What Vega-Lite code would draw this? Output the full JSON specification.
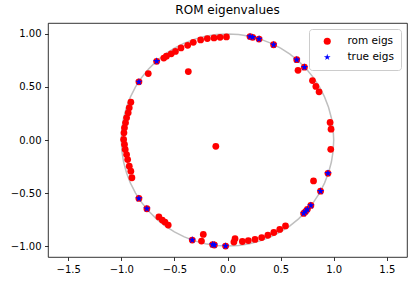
{
  "$schema": "https://vega.github.io/schema/vega-lite/v6.json",
  "autosize": "none",
  "width": 359,
  "height": 234,
  "padding": {"left": 48, "top": 23, "right": 8, "bottom": 26},
  "background": "white",
  "title": {"text": "ROM eigenvalues", "font": "DejaVu Sans", "fontSize": 12, "fontWeight": "normal", "color": "black", "offset": 6},
  "config": {
    "view": {"stroke": "black", "strokeWidth": 0.8},
    "axis": {"grid": false, "domain": false, "tickColor": "black", "tickSize": 3.5, "tickWidth": 0.8, "labelPadding": 3.5, "labelFont": "DejaVu Sans", "labelFontSize": 10, "labelColor": "black", "title": null}
  },
  "datasets": {
    "circle": [
      {"t": 0, "x": 1, "y": 0}, {"t": 6, "x": 0.9945, "y": 0.1045}, {"t": 12, "x": 0.9781, "y": 0.2079}, {"t": 18, "x": 0.9511, "y": 0.309}, {"t": 24, "x": 0.9135, "y": 0.4067}, {"t": 30, "x": 0.866, "y": 0.5}, {"t": 36, "x": 0.809, "y": 0.5878}, {"t": 42, "x": 0.7431, "y": 0.6691}, {"t": 48, "x": 0.6691, "y": 0.7431}, {"t": 54, "x": 0.5878, "y": 0.809}, {"t": 60, "x": 0.5, "y": 0.866}, {"t": 66, "x": 0.4067, "y": 0.9135}, {"t": 72, "x": 0.309, "y": 0.9511}, {"t": 78, "x": 0.2079, "y": 0.9781}, {"t": 84, "x": 0.1045, "y": 0.9945}, {"t": 90, "x": 0, "y": 1},
      {"t": 96, "x": -0.1045, "y": 0.9945}, {"t": 102, "x": -0.2079, "y": 0.9781}, {"t": 108, "x": -0.309, "y": 0.9511}, {"t": 114, "x": -0.4067, "y": 0.9135}, {"t": 120, "x": -0.5, "y": 0.866}, {"t": 126, "x": -0.5878, "y": 0.809}, {"t": 132, "x": -0.6691, "y": 0.7431}, {"t": 138, "x": -0.7431, "y": 0.6691}, {"t": 144, "x": -0.809, "y": 0.5878}, {"t": 150, "x": -0.866, "y": 0.5}, {"t": 156, "x": -0.9135, "y": 0.4067}, {"t": 162, "x": -0.9511, "y": 0.309}, {"t": 168, "x": -0.9781, "y": 0.2079}, {"t": 174, "x": -0.9945, "y": 0.1045}, {"t": 180, "x": -1, "y": 0},
      {"t": 186, "x": -0.9945, "y": -0.1045}, {"t": 192, "x": -0.9781, "y": -0.2079}, {"t": 198, "x": -0.9511, "y": -0.309}, {"t": 204, "x": -0.9135, "y": -0.4067}, {"t": 210, "x": -0.866, "y": -0.5}, {"t": 216, "x": -0.809, "y": -0.5878}, {"t": 222, "x": -0.7431, "y": -0.6691}, {"t": 228, "x": -0.6691, "y": -0.7431}, {"t": 234, "x": -0.5878, "y": -0.809}, {"t": 240, "x": -0.5, "y": -0.866}, {"t": 246, "x": -0.4067, "y": -0.9135}, {"t": 252, "x": -0.309, "y": -0.9511}, {"t": 258, "x": -0.2079, "y": -0.9781}, {"t": 264, "x": -0.1045, "y": -0.9945}, {"t": 270, "x": 0, "y": -1},
      {"t": 276, "x": 0.1045, "y": -0.9945}, {"t": 282, "x": 0.2079, "y": -0.9781}, {"t": 288, "x": 0.309, "y": -0.9511}, {"t": 294, "x": 0.4067, "y": -0.9135}, {"t": 300, "x": 0.5, "y": -0.866}, {"t": 306, "x": 0.5878, "y": -0.809}, {"t": 312, "x": 0.6691, "y": -0.7431}, {"t": 318, "x": 0.7431, "y": -0.6691}, {"t": 324, "x": 0.809, "y": -0.5878}, {"t": 330, "x": 0.866, "y": -0.5}, {"t": 336, "x": 0.9135, "y": -0.4067}, {"t": 342, "x": 0.9511, "y": -0.309}, {"t": 348, "x": 0.9781, "y": -0.2079}, {"t": 354, "x": 0.9945, "y": -0.1045}, {"t": 360, "x": 1, "y": 0}
    ],
    "eigs": [
      {"s": "rom eigs", "x": -0.01, "y": 0.972}, {"s": "rom eigs", "x": -0.07, "y": 0.968}, {"s": "rom eigs", "x": -0.127, "y": 0.962}, {"s": "rom eigs", "x": -0.19, "y": 0.956}, {"s": "rom eigs", "x": -0.253, "y": 0.943}, {"s": "rom eigs", "x": -0.322, "y": 0.921}, {"s": "rom eigs", "x": -0.375, "y": 0.893}, {"s": "rom eigs", "x": -0.438, "y": 0.868}, {"s": "rom eigs", "x": -0.49, "y": 0.835}, {"s": "rom eigs", "x": -0.53, "y": 0.812}, {"s": "rom eigs", "x": -0.575, "y": 0.79}, {"s": "rom eigs", "x": -0.6, "y": 0.772}, {"s": "rom eigs", "x": -0.667, "y": 0.742}, {"s": "rom eigs", "x": -0.746, "y": 0.626}, {"s": "rom eigs", "x": -0.834, "y": 0.548}, {"s": "rom eigs", "x": -0.369, "y": 0.645}, {"s": "rom eigs", "x": -0.11, "y": -0.06},
      {"s": "rom eigs", "x": -0.91, "y": 0.356}, {"s": "rom eigs", "x": -0.925, "y": 0.303}, {"s": "rom eigs", "x": -0.935, "y": 0.256}, {"s": "rom eigs", "x": -0.95, "y": 0.209}, {"s": "rom eigs", "x": -0.96, "y": 0.162}, {"s": "rom eigs", "x": -0.97, "y": 0.115}, {"s": "rom eigs", "x": -0.975, "y": 0.068}, {"s": "rom eigs", "x": -0.978, "y": 0.005}, {"s": "rom eigs", "x": -0.97, "y": -0.042}, {"s": "rom eigs", "x": -0.963, "y": -0.089}, {"s": "rom eigs", "x": -0.95, "y": -0.137}, {"s": "rom eigs", "x": -0.94, "y": -0.184}, {"s": "rom eigs", "x": -0.925, "y": -0.247}, {"s": "rom eigs", "x": -0.91, "y": -0.294}, {"s": "rom eigs", "x": -0.9, "y": -0.356},
      {"s": "rom eigs", "x": -0.834, "y": -0.551}, {"s": "rom eigs", "x": -0.759, "y": -0.648}, {"s": "rom eigs", "x": -0.646, "y": -0.725}, {"s": "rom eigs", "x": -0.614, "y": -0.755}, {"s": "rom eigs", "x": -0.589, "y": -0.774}, {"s": "rom eigs", "x": -0.558, "y": -0.802}, {"s": "rom eigs", "x": -0.332, "y": -0.943}, {"s": "rom eigs", "x": -0.228, "y": -0.89}, {"s": "rom eigs", "x": -0.245, "y": -0.953}, {"s": "rom eigs", "x": -0.14, "y": -0.986}, {"s": "rom eigs", "x": -0.124, "y": -0.99}, {"s": "rom eigs", "x": -0.018, "y": -1.0},
      {"s": "rom eigs", "x": 0.071, "y": -0.93}, {"s": "rom eigs", "x": 0.06, "y": -0.962}, {"s": "rom eigs", "x": 0.14, "y": -0.957}, {"s": "rom eigs", "x": 0.196, "y": -0.948}, {"s": "rom eigs", "x": 0.259, "y": -0.937}, {"s": "rom eigs", "x": 0.322, "y": -0.92}, {"s": "rom eigs", "x": 0.38, "y": -0.898}, {"s": "rom eigs", "x": 0.436, "y": -0.872}, {"s": "rom eigs", "x": 0.492, "y": -0.843}, {"s": "rom eigs", "x": 0.546, "y": -0.81},
      {"s": "rom eigs", "x": 0.717, "y": -0.692}, {"s": "rom eigs", "x": 0.735, "y": -0.675}, {"s": "rom eigs", "x": 0.752, "y": -0.654}, {"s": "rom eigs", "x": 0.785, "y": -0.617}, {"s": "rom eigs", "x": 0.876, "y": -0.483}, {"s": "rom eigs", "x": 0.946, "y": -0.314}, {"s": "rom eigs", "x": 0.81, "y": -0.386}, {"s": "rom eigs", "x": 0.972, "y": -0.088}, {"s": "rom eigs", "x": 0.975, "y": 0.102}, {"s": "rom eigs", "x": 0.966, "y": 0.165}, {"s": "rom eigs", "x": 0.862, "y": 0.454}, {"s": "rom eigs", "x": 0.832, "y": 0.505}, {"s": "rom eigs", "x": 0.8, "y": 0.56}, {"s": "rom eigs", "x": 0.664, "y": 0.657}, {"s": "rom eigs", "x": 0.724, "y": 0.686}, {"s": "rom eigs", "x": 0.652, "y": 0.757}, {"s": "rom eigs", "x": 0.434, "y": 0.898}, {"s": "rom eigs", "x": 0.297, "y": 0.952}, {"s": "rom eigs", "x": 0.237, "y": 0.968}, {"s": "rom eigs", "x": 0.212, "y": 0.975},
      {"s": "true eigs", "x": -0.667, "y": 0.742}, {"s": "true eigs", "x": -0.834, "y": 0.548}, {"s": "true eigs", "x": 0.212, "y": 0.975}, {"s": "true eigs", "x": 0.237, "y": 0.968}, {"s": "true eigs", "x": 0.297, "y": 0.952}, {"s": "true eigs", "x": 0.434, "y": 0.898}, {"s": "true eigs", "x": 0.652, "y": 0.757}, {"s": "true eigs", "x": 0.724, "y": 0.686}, {"s": "true eigs", "x": 0.946, "y": -0.314}, {"s": "true eigs", "x": 0.876, "y": -0.483}, {"s": "true eigs", "x": 0.785, "y": -0.617}, {"s": "true eigs", "x": 0.752, "y": -0.654}, {"s": "true eigs", "x": 0.735, "y": -0.675}, {"s": "true eigs", "x": 0.717, "y": -0.692}, {"s": "true eigs", "x": -0.834, "y": -0.551}, {"s": "true eigs", "x": -0.759, "y": -0.648}, {"s": "true eigs", "x": -0.332, "y": -0.943}, {"s": "true eigs", "x": -0.14, "y": -0.986}, {"s": "true eigs", "x": -0.124, "y": -0.99}, {"s": "true eigs", "x": -0.018, "y": -1.0}
    ]
  },
  "layer": [
    {
      "data": {"name": "circle"},
      "mark": {"type": "line", "color": "#bfbfbf", "strokeWidth": 1.5, "clip": true},
      "encoding": {
        "x": {"field": "x", "type": "quantitative", "scale": {"domain": [-1.69, 1.69], "nice": false, "zero": false}, "axis": {"values": [-1.5, -1, -0.5, 0, 0.5, 1, 1.5], "format": ".1f"}},
        "y": {"field": "y", "type": "quantitative", "scale": {"domain": [-1.103, 1.103], "nice": false, "zero": false}, "axis": {"values": [-1, -0.75, -0.5, -0.25, 0, 0.25, 0.5, 0.75, 1], "format": ".2f"}},
        "order": {"field": "t", "type": "quantitative"}
      }
    },
    {
      "data": {"name": "eigs"},
      "transform": [{"filter": "datum.s == 'rom eigs'"}],
      "mark": {"type": "point", "filled": true, "opacity": 1, "size": 46},
      "encoding": {
        "x": {"field": "x", "type": "quantitative"},
        "y": {"field": "y", "type": "quantitative"},
        "color": {"field": "s", "type": "nominal", "scale": {"domain": ["rom eigs", "true eigs"], "range": ["#ff0000", "#0000ff"]}, "legend": {"title": null, "orient": "top-right", "offset": 6, "strokeColor": "#cccccc", "fillColor": "white", "cornerRadius": 3, "padding": 7, "labelFont": "DejaVu Sans", "labelFontSize": 10.5, "labelColor": "black", "symbolSize": 50, "symbolOffset": 6, "labelOffset": 15, "rowPadding": 5}},
        "shape": {"field": "s", "type": "nominal", "scale": {"domain": ["rom eigs", "true eigs"], "range": ["circle", "M0,-1L0.225,-0.309L0.951,-0.309L0.363,0.118L0.588,0.809L0,0.382L-0.588,0.809L-0.363,0.118L-0.951,-0.309L-0.225,-0.309Z"]}}
      }
    },
    {
      "data": {"name": "eigs"},
      "transform": [{"filter": "datum.s == 'true eigs'"}],
      "mark": {"type": "point", "filled": true, "opacity": 1, "size": 62},
      "encoding": {
        "x": {"field": "x", "type": "quantitative"},
        "y": {"field": "y", "type": "quantitative"},
        "color": {"field": "s", "type": "nominal"},
        "shape": {"field": "s", "type": "nominal"}
      }
    }
  ]
}
